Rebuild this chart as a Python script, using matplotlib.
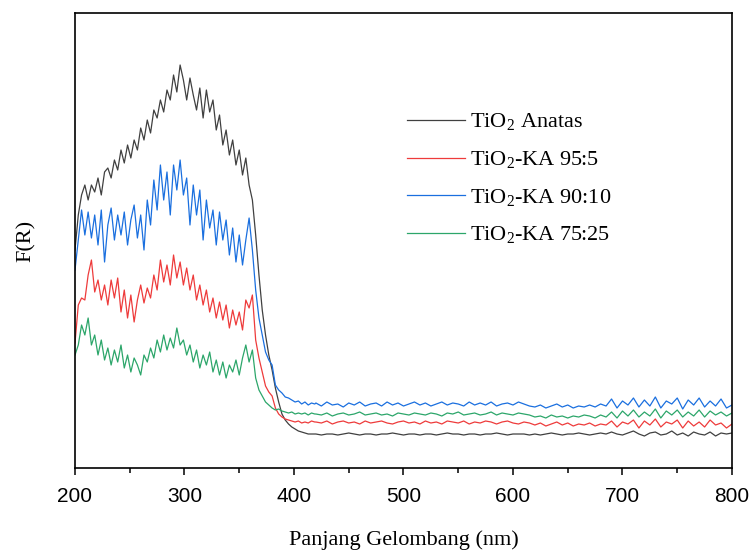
import matplotlib.pyplot as plt
import numpy as np

# wavelength grids (nm): dense part over the absorption edge, coarser over the flat tail
wl_edge = np.arange(200, 420, 3)
wl_tail = np.arange(420, 801, 5)

# F(R), arbitrary units
anatas_edge = [218, 253, 273, 283, 268, 283, 276, 290, 273, 296,
               300, 290, 308, 298, 318, 305, 323, 310, 328, 318,
               340, 328, 348, 335, 358, 350, 368, 356, 378, 368,
               393, 376, 403, 388, 368, 390, 373, 358, 380, 350,
               378, 356, 368, 338, 353, 323, 338, 313, 328, 303,
               318, 293, 310, 283, 268, 233, 193, 158, 133, 113,
               98, 80, 66, 54, 48, 44, 41, 39, 37, 36,
               35, 34, 34, 34]
anatas_tail = [34, 33, 34, 34, 33, 34, 35, 34, 33, 34,
               34, 33, 34, 34, 35, 34, 33, 34, 34, 33,
               34, 34, 33, 34, 35, 34, 34, 33, 34, 34,
               33, 34, 34, 35, 34, 33, 34, 34, 34, 33,
               34, 33, 34, 35, 34, 33, 34, 34, 35, 34,
               33, 34, 35, 34, 36, 34, 33, 35, 37, 34,
               32, 35, 36, 33, 34, 37, 33, 35, 32, 36,
               34, 33, 36, 32, 35, 34, 35]

ka95_edge = [125, 163, 170, 168, 193, 208, 176, 188, 168, 183,
             163, 188, 170, 190, 156, 178, 150, 173, 146, 168,
             183, 165, 180, 170, 193, 178, 208, 186, 203, 183,
             213, 190, 206, 183, 200, 178, 193, 168, 183, 163,
             178, 156, 170, 150, 166, 148, 163, 140, 158, 143,
             156, 138, 168, 160, 173, 128, 110, 96, 82, 76,
             72, 60, 54, 51, 49, 48, 47, 46, 47, 45,
             46, 45, 47, 46]
ka95_tail = [46, 45, 47, 44, 46, 47, 45, 46, 44, 47,
             45, 46, 47, 45, 44, 46, 47, 45, 46, 44,
             47, 45, 46, 44, 47, 46, 45, 47, 44, 46,
             45, 47, 46, 44, 46, 47, 45, 44, 46, 45,
             43, 45, 42, 44, 46, 43, 45, 42, 44, 43,
             45, 42, 44, 43, 47, 41, 46, 44, 48, 40,
             47, 43, 49, 41, 46, 44, 48, 40, 47, 42,
             46, 41, 48, 43, 45, 40, 44]

ka90_edge = [198, 228, 258, 233, 256, 230, 253, 223, 258, 206,
             243, 260, 228, 253, 233, 256, 223, 248, 263, 230,
             253, 218, 268, 243, 288, 258, 303, 268, 296, 253,
             303, 278, 308, 273, 290, 243, 283, 253, 278, 228,
             268, 240, 258, 223, 256, 228, 248, 213, 240, 206,
             233, 203, 228, 250, 218, 178, 150, 133, 116, 108,
             103, 83, 78, 75, 71, 70, 68, 66, 67, 64,
             66, 63, 65, 64]
ka90_tail = [65, 62, 66, 63, 64, 61, 65, 63, 66, 62,
             64, 65, 62, 66, 63, 65, 62, 64, 66, 63,
             65, 62, 64, 66, 63, 65, 64, 62, 66, 63,
             65, 63, 66, 62, 64, 65, 63, 66, 64, 62,
             61, 63, 60, 62, 64, 61, 63, 60, 62, 61,
             63, 61, 64, 62, 69, 60, 67, 63, 70, 61,
             68, 62, 71, 60, 67, 64, 70, 59, 68, 63,
             70, 61, 67, 62, 69, 60, 63]

ka75_edge = [113, 123, 143, 133, 150, 123, 133, 113, 128, 108,
             120, 103, 118, 106, 123, 100, 113, 96, 110, 103,
             93, 113, 106, 120, 110, 128, 116, 133, 118, 130,
             120, 140, 123, 128, 113, 123, 106, 118, 100, 113,
             103, 116, 96, 108, 93, 106, 90, 103, 96, 108,
             93, 110, 123, 106, 118, 90, 78, 72, 66, 63,
             60, 58, 59, 57, 56, 55, 56, 54, 55, 54,
             55, 53, 55, 54]
ka75_tail = [54, 53, 55, 52, 54, 55, 53, 54, 56, 53,
             54, 55, 53, 54, 52, 55, 54, 53, 55, 54,
             53, 55, 54, 52, 55, 54, 56, 53, 54, 55,
             53, 54, 56, 53, 55, 54, 53, 55, 54, 53,
             51, 52, 50, 53, 51, 52, 50, 52, 51, 53,
             52, 50, 53, 51, 56, 50, 57, 52, 58, 51,
             56, 52, 59, 50, 57, 53, 58, 51, 56, 52,
             58, 51, 57, 53, 56, 52, 55]

labels = ["TiO$_2$ Anatas", "TiO$_2$-KA 95:5", "TiO$_2$-KA 90:10", "TiO$_2$-KA 75:25"]
colors = ["#404040", "#ee3b3b", "#1a6fdf", "#2ca66a"]

wl = np.concatenate([wl_edge, wl_tail])
series = [anatas_edge + anatas_tail, ka95_edge + ka95_tail,
          ka90_edge + ka90_tail, ka75_edge + ka75_tail]

plt.rcParams['mathtext.fontset'] = 'custom'
plt.rcParams['mathtext.rm'] = 'Liberation Serif'

fig = plt.figure(figsize=(7.53, 5.53), dpi=100)
ax = fig.add_axes([0.0996, 0.1537, 0.8725, 0.8228])

# draw the lowest-lying lines last so they show on top, like the original
for i in [0, 2, 1, 3]:
    ax.plot(wl, series[i], color=colors[i], lw=0.9, label=labels[i])

ax.set_xlim(200, 800)
ax.set_ylim(0, 455)
ax.set_xticks([200, 300, 400, 500, 600, 700, 800])
ax.set_xticks([250, 350, 450, 550, 650, 750], minor=True)
ax.set_yticks([])
ax.tick_params(axis='x', which='major', direction='out', length=5, width=1.1, pad=9,
               labelsize=15)
ax.tick_params(axis='x', which='minor', direction='out', length=3.5, width=1.1)
for lab in ax.get_xticklabels():
    lab.set_family('Liberation Sans')
for sp in ax.spines.values():
    sp.set_linewidth(1.2)

ax.set_xlabel("Panjang Gelombang (nm)", family='Liberation Serif', fontsize=16, labelpad=17)
ax.set_ylabel("F(R)", family='Liberation Serif', fontsize=16, labelpad=28)

handles, labs = ax.get_legend_handles_labels()
order = [labs.index(l) for l in labels]
ax.legend([handles[k] for k in order], labels, loc='upper left',
          bbox_to_anchor=(0.505, 0.783), frameon=False, borderpad=0, borderaxespad=0,
          handlelength=2.6, handletextpad=0.25, labelspacing=0.72,
          prop={'family': 'Liberation Serif', 'size': 16})

fig.savefig("out.png", dpi=100)
